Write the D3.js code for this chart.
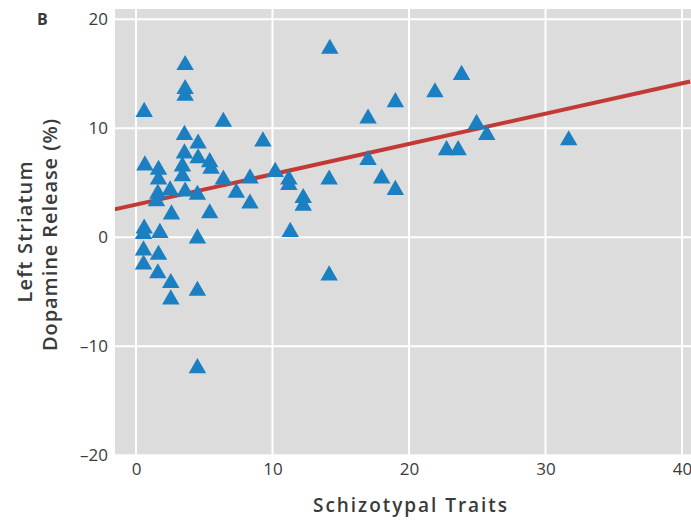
<!DOCTYPE html>
<html>
<head>
<meta charset="utf-8">
<script src="https://cdn.jsdelivr.net/npm/d3@7"></script>
<style>
  body { margin: 0; background: #fff; }
  svg text { font-family: "Open Sans", "DejaVu Sans", sans-serif; fill: #3a3a3a; }
</style>
</head>
<body>
<script>
// Schizotypal traits (x) vs left striatum dopamine release (y)
var traits = [0.6, 0.65, 0.6, 0.55, 0.55, 0.55, 1.65, 1.65, 1.6, 1.5, 1.75, 1.65, 1.6,
  2.5, 2.6, 2.55, 2.55, 3.6, 3.6, 3.6, 3.55, 3.55, 3.4, 3.4, 3.6, 4.55, 4.55, 4.5, 4.5,
  4.5, 4.5, 5.4, 5.5, 5.4, 6.4, 6.4, 7.35, 8.35, 8.35, 9.3, 10.2, 11.2, 11.2, 11.3,
  12.25, 12.25, 14.2, 14.15, 14.15, 17.0, 17.0, 18.0, 19.0, 19.0, 21.9, 22.75, 23.6,
  23.85, 24.95, 25.7, 31.7];
var release = [11.5, 6.6, 0.8, 0.3, -1.2, -2.5, 6.2, 5.3, 4.0, 3.3, 0.4, -1.6, -3.3,
  4.3, 2.1, -4.2, -5.7, 15.8, 13.6, 13.0, 9.4, 7.7, 6.5, 5.6, 4.2, 8.6, 7.25, 3.9, -0.1,
  -4.9, -12.0, 6.9, 6.3, 2.2, 10.6, 5.3, 4.1, 5.4, 3.1, 8.8, 6.0, 5.3, 4.8, 0.5,
  3.6, 2.9, 17.3, 5.3, -3.5, 10.9, 7.1, 5.4, 12.4, 4.35, 13.3, 8.0, 8.0,
  14.9, 10.4, 9.4, 8.9];

// fitted line end points
var fitX = [-1.6, 40.6];
var fitY = [2.55, 14.3];

var xTicks = [0, 10, 20, 30, 40];
var yTicks = [-20, -10, 0, 10, 20];

var svgWidth = 691, svgHeight = 521;
var plot = { left: 115, top: 9, right: 691, bottom: 456 };

var svg = d3.select("body").append("svg")
  .attr("width", svgWidth)
  .attr("height", svgHeight);

var x = d3.scaleLinear().domain([0, 40]).range([136, 682]);
var y = d3.scaleLinear().domain([-20, 20]).range([455.3, 19.3]);

svg.append("defs").append("clipPath").attr("id", "clip")
  .append("rect")
  .attr("x", plot.left).attr("y", plot.top)
  .attr("width", plot.right - plot.left).attr("height", plot.bottom - plot.top);

// panel background
svg.append("rect")
  .attr("x", plot.left).attr("y", plot.top)
  .attr("width", plot.right - plot.left).attr("height", plot.bottom - plot.top)
  .attr("fill", "#dcdcdd");

// grid
var grid = svg.append("g").attr("clip-path", "url(#clip)");
grid.selectAll(".vg").data(xTicks).enter().append("line")
  .attr("x1", d => x(d)).attr("x2", d => x(d))
  .attr("y1", plot.top).attr("y2", plot.bottom)
  .attr("stroke", "#fff").attr("stroke-width", 2);
grid.selectAll(".hg").data(yTicks).enter().append("line")
  .attr("x1", plot.left).attr("x2", plot.right)
  .attr("y1", d => y(d)).attr("y2", d => y(d))
  .attr("stroke", "#fff").attr("stroke-width", 2);

// axes (labels only)
var fmt = d => d < 0 ? "\u2013" + Math.abs(d) : String(d);

var xAxis = svg.append("g")
  .attr("transform", `translate(0, ${plot.bottom})`)
  .call(d3.axisBottom(x).tickValues(xTicks).tickFormat(fmt).tickSize(0).tickPadding(7));
var yAxis = svg.append("g")
  .attr("transform", `translate(${plot.left}, 0)`)
  .call(d3.axisLeft(y).tickValues(yTicks).tickFormat(fmt).tickSize(0).tickPadding(7));
[xAxis, yAxis].forEach(function (g) {
  g.select(".domain").remove();
  g.selectAll("text").attr("font-size", "17px").attr("fill", "#3a3a3a")
    .attr("font-family", "'Open Sans', sans-serif");
});

// regression line
svg.append("line")
  .attr("clip-path", "url(#clip)")
  .attr("x1", x(fitX[0])).attr("y1", y(fitY[0]))
  .attr("x2", x(fitX[1])).attr("y2", y(fitY[1]))
  .attr("stroke", "#c23a33")
  .attr("stroke-width", 4);

// points
var pts = traits.map((t, i) => ({ x: t, y: release[i] }));
var tri = d3.symbol().type(d3.symbolTriangle).size(132);
svg.append("g").selectAll("path")
  .data(pts)
  .enter()
  .append("path")
  .attr("d", tri)
  .attr("transform", d => `translate(${x(d.x)}, ${y(d.y)})`)
  .attr("fill", "#1a80c2");

// titles
svg.append("text")
  .attr("x", 410).attr("y", 512)
  .attr("text-anchor", "middle")
  .attr("font-size", "19px").attr("font-weight", 600)
  .attr("textLength", 194).attr("lengthAdjust", "spacing")
  .text("Schizotypal Traits");

var yt = svg.append("g").attr("transform", "translate(0, 232) rotate(-90)");
yt.append("text")
  .attr("x", 0).attr("y", 32)
  .attr("text-anchor", "middle")
  .attr("font-size", "20px").attr("font-weight", 600)
  .attr("textLength", 141).attr("lengthAdjust", "spacing")
  .text("Left Striatum");
yt.append("text")
  .attr("x", -3).attr("y", 57)
  .attr("text-anchor", "middle")
  .attr("font-size", "20px").attr("font-weight", 600)
  .attr("textLength", 232).attr("lengthAdjust", "spacing")
  .text("Dopamine Release (%)");

svg.append("text")
  .attr("x", 37).attr("y", 25)
  .attr("font-size", "16px").attr("font-weight", 700)
  .text("B");
</script>
</body>
</html>
